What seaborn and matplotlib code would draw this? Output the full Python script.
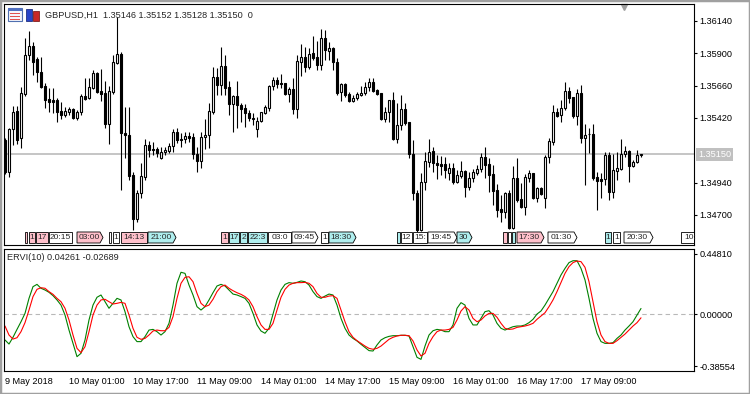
import numpy as np
import pandas as pd
import matplotlib
matplotlib.use("Agg")
import matplotlib.pyplot as plt
from matplotlib.patches import Rectangle, Polygon
from matplotlib.transforms import blended_transform_factory
import seaborn as sns

# GBPUSD H1 candles, 9 May 09:00 .. 17 May
opens = [
    1.35256, 1.35018, 1.35338, 1.35471, 1.35271, 1.35598, 1.35887, 1.35954, 1.35858, 1.35761,
    1.35657, 1.35560, 1.35553, 1.35553, 1.35471, 1.35442, 1.35464, 1.35486, 1.35419, 1.35464,
    1.35583, 1.35568, 1.35642, 1.35754, 1.35620, 1.35605, 1.35375, 1.35612, 1.35828, 1.35895,
    1.35308, 1.35293, 1.34996, 1.34669, 1.34862, 1.34981, 1.35219, 1.35189, 1.35189, 1.35122,
    1.35167, 1.35174, 1.35211, 1.35316, 1.35264, 1.35264, 1.35286, 1.35279, 1.35152, 1.35100,
    1.35279, 1.35293, 1.35464, 1.35724, 1.35664, 1.35806, 1.35650, 1.35523, 1.35583, 1.35516,
    1.35494, 1.35456, 1.35419, 1.35338, 1.35397, 1.35456, 1.35494, 1.35657, 1.35702, 1.35679,
    1.35679, 1.35598, 1.35635, 1.35486, 1.35835, 1.35873, 1.35798, 1.35902, 1.35873, 1.35813,
    1.36014, 1.35917, 1.35939, 1.35835, 1.35612, 1.35672, 1.35598, 1.35546, 1.35568, 1.35590,
    1.35605, 1.35650, 1.35687, 1.35627, 1.35605, 1.35412, 1.35464, 1.35553, 1.35264, 1.35367,
    1.35486, 1.35390, 1.35152, 1.34862, 1.34587, 1.34944, 1.35093, 1.35174, 1.35085, 1.35078,
    1.35078, 1.35011, 1.35048, 1.34944, 1.34989, 1.35026, 1.34907, 1.34974, 1.35011, 1.35041,
    1.35130, 1.35078, 1.35004, 1.34884, 1.34743, 1.34721, 1.34862, 1.34602, 1.34974, 1.34817,
    1.34758, 1.34974, 1.35011, 1.34825, 1.34899, 1.34825, 1.35130, 1.35241, 1.35464, 1.35442,
    1.35494, 1.35620, 1.35575, 1.35434, 1.35605, 1.35271, 1.35301, 1.35301, 1.34981, 1.34966,
    1.34966, 1.35144, 1.34870, 1.35026, 1.35041, 1.35152, 1.35174, 1.35063, 1.35093, 1.35146,
]
highs = [
    1.35271, 1.35346, 1.35508, 1.35508, 1.35650, 1.36014, 1.36066, 1.35984, 1.35873, 1.35873,
    1.35679, 1.35642, 1.35642, 1.35568, 1.35538, 1.35501, 1.35501, 1.35494, 1.35479, 1.35598,
    1.35716, 1.35716, 1.35776, 1.35761, 1.35783, 1.35694, 1.35657, 1.35887, 1.36170, 1.35910,
    1.35501, 1.35501, 1.35018, 1.34884, 1.35085, 1.35264, 1.35249, 1.35241, 1.35204, 1.35204,
    1.35204, 1.35234, 1.35338, 1.35346, 1.35308, 1.35316, 1.35316, 1.35308, 1.35204, 1.35316,
    1.35412, 1.35531, 1.35798, 1.35791, 1.35947, 1.35887, 1.35694, 1.35590, 1.35694, 1.35531,
    1.35523, 1.35479, 1.35456, 1.35427, 1.35464, 1.35516, 1.35664, 1.35724, 1.35724, 1.35746,
    1.35679, 1.35650, 1.35716, 1.35887, 1.35969, 1.35947, 1.35939, 1.36029, 1.35991, 1.36081,
    1.36073, 1.35984, 1.35947, 1.35865, 1.35679, 1.35679, 1.35612, 1.35590, 1.35612, 1.35657,
    1.35687, 1.35716, 1.35716, 1.35635, 1.35605, 1.35501, 1.35553, 1.35612, 1.35531, 1.35590,
    1.35531, 1.35390, 1.35256, 1.34884, 1.35011, 1.35167, 1.35264, 1.35204, 1.35144, 1.35137,
    1.35130, 1.35085, 1.35085, 1.35033, 1.35100, 1.35033, 1.35018, 1.35041, 1.35070, 1.35159,
    1.35204, 1.35122, 1.35070, 1.34929, 1.34847, 1.34870, 1.34884, 1.35063, 1.35122, 1.34936,
    1.35004, 1.35033, 1.35011, 1.34907, 1.34907, 1.35144, 1.35271, 1.35516, 1.35494, 1.35553,
    1.35687, 1.35650, 1.35575, 1.35635, 1.35664, 1.35375, 1.35346, 1.35375, 1.35018, 1.35011,
    1.35167, 1.35167, 1.35152, 1.35167, 1.35264, 1.35211, 1.35182, 1.35108, 1.35182, 1.35152,
]
lows = [
    1.35004, 1.34981, 1.35219, 1.35226, 1.35196, 1.35583, 1.35850, 1.35739, 1.35687, 1.35642,
    1.35494, 1.35464, 1.35456, 1.35390, 1.35412, 1.35427, 1.35442, 1.35412, 1.35404, 1.35442,
    1.35553, 1.35560, 1.35635, 1.35605, 1.35546, 1.35346, 1.35226, 1.35598, 1.35820, 1.34884,
    1.35122, 1.34959, 1.34587, 1.34647, 1.34825, 1.34959, 1.35130, 1.35144, 1.35130, 1.35115,
    1.35144, 1.35159, 1.35167, 1.35234, 1.35204, 1.35234, 1.35241, 1.35115, 1.35018, 1.35048,
    1.35189, 1.35196, 1.35449, 1.35590, 1.35590, 1.35590, 1.35442, 1.35316, 1.35346, 1.35390,
    1.35352, 1.35397, 1.35367, 1.35279, 1.35390, 1.35449, 1.35471, 1.35627, 1.35642, 1.35642,
    1.35590, 1.35538, 1.35449, 1.35419, 1.35731, 1.35761, 1.35783, 1.35850, 1.35776, 1.35776,
    1.35850, 1.35850, 1.35776, 1.35590, 1.35546, 1.35575, 1.35538, 1.35538, 1.35553, 1.35583,
    1.35590, 1.35620, 1.35612, 1.35590, 1.35404, 1.35390, 1.35390, 1.35256, 1.35234, 1.35330,
    1.35367, 1.35122, 1.34810, 1.34572, 1.34580, 1.34884, 1.35056, 1.35018, 1.34966, 1.34996,
    1.34974, 1.34959, 1.34929, 1.34936, 1.34974, 1.34832, 1.34884, 1.34944, 1.34996, 1.35018,
    1.34974, 1.34870, 1.34773, 1.34684, 1.34647, 1.34676, 1.34595, 1.34595, 1.34795, 1.34751,
    1.34699, 1.34944, 1.34817, 1.34795, 1.34847, 1.34751, 1.35085, 1.35219, 1.35427, 1.35390,
    1.35479, 1.35531, 1.35419, 1.35367, 1.35234, 1.34922, 1.35159, 1.34959, 1.34736, 1.34825,
    1.34922, 1.34810, 1.34825, 1.34959, 1.35033, 1.35130, 1.34944, 1.35056, 1.35085, 1.35128,
]
closes = [
    1.35018, 1.35338, 1.35464, 1.35256, 1.35605, 1.35887, 1.35954, 1.35835, 1.35761, 1.35650,
    1.35553, 1.35538, 1.35538, 1.35464, 1.35442, 1.35471, 1.35486, 1.35419, 1.35464, 1.35583,
    1.35560, 1.35650, 1.35754, 1.35612, 1.35598, 1.35375, 1.35620, 1.35835, 1.35895, 1.35308,
    1.35293, 1.34989, 1.34669, 1.34862, 1.34989, 1.35219, 1.35182, 1.35182, 1.35159, 1.35167,
    1.35182, 1.35211, 1.35316, 1.35256, 1.35256, 1.35286, 1.35271, 1.35152, 1.35100, 1.35279,
    1.35293, 1.35471, 1.35724, 1.35664, 1.35806, 1.35642, 1.35523, 1.35583, 1.35516, 1.35486,
    1.35456, 1.35419, 1.35412, 1.35397, 1.35464, 1.35501, 1.35657, 1.35702, 1.35672, 1.35672,
    1.35598, 1.35635, 1.35486, 1.35843, 1.35873, 1.35798, 1.35895, 1.35865, 1.35813, 1.36014,
    1.35925, 1.35939, 1.35835, 1.35605, 1.35672, 1.35590, 1.35546, 1.35568, 1.35598, 1.35605,
    1.35650, 1.35687, 1.35620, 1.35598, 1.35412, 1.35464, 1.35553, 1.35264, 1.35367, 1.35486,
    1.35382, 1.35152, 1.34862, 1.34587, 1.34944, 1.35100, 1.35167, 1.35085, 1.35070, 1.35063,
    1.35033, 1.35048, 1.34944, 1.34996, 1.35026, 1.34907, 1.34974, 1.35018, 1.35041, 1.35130,
    1.35070, 1.34996, 1.34877, 1.34736, 1.34721, 1.34862, 1.34602, 1.34974, 1.34810, 1.34758,
    1.34981, 1.35011, 1.34825, 1.34899, 1.34855, 1.35130, 1.35249, 1.35464, 1.35434, 1.35494,
    1.35620, 1.35568, 1.35434, 1.35605, 1.35271, 1.35293, 1.35298, 1.34974, 1.34951, 1.34951,
    1.35144, 1.34870, 1.35033, 1.35048, 1.35152, 1.35174, 1.35063, 1.35093, 1.35144, 1.35150,
]

# ERVI(10): main (green) and signal (red)
ervi_main = [
    -0.192, -0.222, -0.172, -0.113, -0.056, 0.006, 0.118, 0.205, 0.222, 0.193,
    0.180, 0.163, 0.138, 0.106, 0.068, -0.006, -0.118, -0.217, -0.316, -0.291,
    -0.192, -0.043, 0.068, 0.126, 0.143, 0.093, 0.044, 0.081, 0.118, 0.106,
    0.019, -0.093, -0.167, -0.204, -0.204, -0.167, -0.118, -0.113, -0.130, -0.155,
    -0.130, -0.068, 0.068, 0.230, 0.312, 0.304, 0.217, 0.143, 0.056, 0.031,
    0.056, 0.106, 0.160, 0.210, 0.222, 0.210, 0.180, 0.150, 0.143, 0.131,
    0.118, 0.081, 0.006, -0.080, -0.125, -0.142, -0.105, 0.001, 0.106, 0.180,
    0.222, 0.235, 0.230, 0.237, 0.247, 0.242, 0.217, 0.168, 0.131, 0.118,
    0.135, 0.150, 0.143, 0.068, -0.031, -0.105, -0.155, -0.180, -0.199, -0.224,
    -0.247, -0.271, -0.274, -0.229, -0.192, -0.175, -0.165, -0.160, -0.160, -0.157,
    -0.157, -0.162, -0.242, -0.321, -0.336, -0.237, -0.155, -0.123, -0.113, -0.118,
    -0.130, -0.130, -0.080, 0.044, 0.086, 0.068, -0.031, -0.080, -0.080, -0.031,
    0.019, 0.026, -0.006, -0.068, -0.105, -0.118, -0.105, -0.093, -0.088, -0.088,
    -0.080, -0.063, -0.038, 0.001, 0.024, 0.068, 0.118, 0.168, 0.230, 0.292,
    0.341, 0.384, 0.398, 0.398, 0.341, 0.255, 0.118, -0.031, -0.142, -0.204,
    -0.217, -0.217, -0.212, -0.180, -0.155, -0.118, -0.088, -0.056, -0.006, 0.04261,
]
ervi_signal = [
    -0.088, -0.155, -0.185, -0.175, -0.130, -0.063, 0.031, 0.131, 0.185, 0.197,
    0.193, 0.168, 0.148, 0.118, 0.093, 0.044, -0.043, -0.155, -0.254, -0.286,
    -0.242, -0.130, -0.006, 0.068, 0.106, 0.111, 0.093, 0.076, 0.081, 0.088,
    0.081, -0.006, -0.105, -0.172, -0.187, -0.180, -0.155, -0.125, -0.118, -0.123,
    -0.123, -0.098, -0.018, 0.118, 0.230, 0.274, 0.279, 0.242, 0.155, 0.081,
    0.056, 0.068, 0.111, 0.168, 0.205, 0.217, 0.193, 0.175, 0.160, 0.148,
    0.131, 0.106, 0.056, -0.018, -0.080, -0.113, -0.113, -0.068, 0.031, 0.126,
    0.185, 0.217, 0.230, 0.235, 0.235, 0.237, 0.230, 0.205, 0.155, 0.126,
    0.126, 0.135, 0.138, 0.118, 0.031, -0.056, -0.130, -0.172, -0.197, -0.217,
    -0.237, -0.254, -0.261, -0.254, -0.237, -0.212, -0.187, -0.172, -0.162, -0.157,
    -0.157, -0.160, -0.199, -0.266, -0.311, -0.291, -0.217, -0.167, -0.130, -0.118,
    -0.118, -0.113, -0.098, -0.043, 0.024, 0.056, 0.031, -0.031, -0.056, -0.043,
    -0.013, 0.006, 0.006, -0.023, -0.068, -0.105, -0.113, -0.110, -0.098, -0.093,
    -0.088, -0.080, -0.068, -0.038, -0.013, 0.011, 0.056, 0.106, 0.168, 0.235,
    0.304, 0.354, 0.384, 0.396, 0.391, 0.349, 0.242, 0.093, -0.056, -0.155,
    -0.204, -0.217, -0.217, -0.197, -0.172, -0.148, -0.118, -0.088, -0.063, -0.02689,
]

time_ticks = [0, 16, 32, 48, 64, 80, 96, 112, 128, 144]
time_labels = ["9 May 2018", "10 May 01:00", "10 May 17:00", "11 May 09:00", "14 May 01:00",
               "14 May 17:00", "15 May 09:00", "16 May 01:00", "16 May 17:00", "17 May 09:00"]
price_ticks = [1.36140, 1.35900, 1.35660, 1.35420, 1.34940, 1.34700]
ervi_ticks = [0.44810, 0.00000, -0.38554]
bid = 1.35150

# calendar event tags along the bottom of the price window (start bar, end bar, text, colour, arrow)
events = [
    (5.0, 5.5, "", "pink", False), (6.0, 7.5, "1", "pink", False), (7.75, 10.75, "17", "pink", False),
    (11.0, 16.75, "20:15", "white", False), (18.0, 24.5, "03:00", "pink", True),
    (26.0, 26.5, "", "white", False), (27.0, 28.5, "1", "white", False),
    (29.0, 35.5, "14:13", "pink", False), (35.75, 42.75, "21:00", "cyan", True),
    (54.0, 55.75, "1", "pink", False), (56.0, 58.5, "17", "cyan", False), (58.75, 60.5, "2", "cyan", False),
    (60.75, 65.5, "22:3", "cyan", False), (65.75, 71.5, "03:0", "white", False),
    (71.75, 78.25, "09:45", "white", True), (79.0, 80.75, "1", "white", False),
    (81.0, 87.75, "18:30", "cyan", True), (98.0, 98.75, "", "cyan", False),
    (99.0, 101.75, "12", "white", False), (102.0, 105.5, "15:", "white", False),
    (105.75, 113.0, "19:45", "white", True), (113.0, 116.75, "30", "cyan", True),
    (124.5, 125.5, "", "pink", False), (125.75, 126.5, "", "white", False), (126.75, 127.5, "", "cyan", False),
    (128.0, 134.75, "17:30", "pink", True), (135.75, 143.0, "01:30", "white", True),
    (150.0, 151.5, "1", "cyan", False), (152.0, 153.75, "1", "white", False),
    (154.75, 162.0, "20:30", "white", True), (169.0, 173.5, "10:", "white", False),
]
tag_colors = {"pink": "#ffc0cb", "cyan": "#afeeee", "white": "#ffffff"}

sns.set_style("white")
plt.rcParams['font.family'] = ['Liberation Sans', 'DejaVu Sans']
plt.rcParams['font.size'] = 6.6

W, H = 750, 394
fig = plt.figure(figsize=(7.5, 3.94), dpi=100)


def fx(x):
    return x / W


def fy(y):
    return 1 - y / H


ax1 = fig.add_axes([fx(4), fy(245), fx(694) - fx(4), fy(4) - fy(245)])
ax2 = fig.add_axes([fx(4), fy(370.7), fx(694) - fx(4), fy(249) - fy(370.7)])

# candles
o = np.array(opens)
h = np.array(highs)
l = np.array(lows)
c = np.array(closes)
x = np.arange(len(c))
up = c >= o
body_lo = np.minimum(o, c)
body_h = np.maximum(np.abs(c - o), 0.000005)

ax1.axhline(bid, color="#c0c0c0", lw=1.3, zorder=1)
ax1.vlines(x, l, h, color="black", lw=0.8, zorder=2)
ax1.bar(x[up], body_h[up], bottom=body_lo[up], width=0.55, facecolor="white",
        edgecolor="black", lw=0.8, zorder=3)
ax1.bar(x[~up], body_h[~up], bottom=body_lo[~up], width=0.55, facecolor="black",
        edgecolor="black", lw=0.8, zorder=3)

ax1.set_xlim(-0.25, 172.25)
ax1.set_ylim(1.34476, 1.36266)
ax1.set_xticks([])
ax1.yaxis.tick_right()
ax1.set_yticks(price_ticks)
ax1.set_yticklabels([f"{v:.5f}" for v in price_ticks])
ax1.tick_params(axis="y", direction="out", length=2.2, width=0.8, pad=1.5, labelsize=6.6, colors="black")

# event tags
tr = blended_transform_factory(ax1.transData, ax1.transAxes)
y0, y1 = 0.0083, 0.054
for xs, xe, label, col, arrow in events:
    if arrow:
        pts = [(xs, y0), (xe - 0.75, y0), (xe, (y0 + y1) / 2), (xe - 0.75, y1), (xs, y1)]
    else:
        pts = [(xs, y0), (xe, y0), (xe, y1), (xs, y1)]
    ax1.add_patch(Polygon(pts, closed=True, facecolor=tag_colors[col], edgecolor="black",
                          lw=0.6, transform=tr, zorder=4))
    if label:
        ax1.text((xs + xe) / 2 - (0.3 if arrow else 0), (y0 + y1) / 2, label, transform=tr,
                 fontsize=6, ha="center", va="center", zorder=5)

# current bid label
ax1.text(1 + 4 / 690, bid, f"{bid:.5f}", transform=blended_transform_factory(ax1.transAxes, ax1.transData),
         ha="left", va="center", color="white", fontsize=6.6, clip_on=False, zorder=6,
         bbox=dict(boxstyle="square,pad=0.2", fc="#c0c0c0", ec="none"))

# chart shift marker
ax1.plot([154.75], [0.988], marker="v", ms=4, color="#a0a0a0", transform=tr, clip_on=False)

# ERVI window
df = pd.DataFrame({"bar": x, "main": ervi_main, "signal": ervi_signal})
ax2.axhline(0, color="#b8b8b8", lw=0.8, ls=(0, (4, 3)), zorder=0)
sns.lineplot(data=df, x="bar", y="main", color="#008000", lw=0.8, ax=ax2)
sns.lineplot(data=df, x="bar", y="signal", color="#ff0000", lw=0.8, ax=ax2)
ax2.set_xlabel("")
ax2.set_ylabel("")
ax2.set_xlim(-0.25, 172.25)
ax2.set_ylim(-0.4205, 0.4853)
ax2.yaxis.tick_right()
ax2.set_yticks(ervi_ticks)
ax2.set_yticklabels([f"{v:.5f}" for v in ervi_ticks])
ax2.set_xticks(time_ticks)
ax2.set_xticklabels(time_labels, ha="left")
ax2.tick_params(axis="y", direction="out", length=2.2, width=0.8, pad=1.5, labelsize=6.6, colors="black")
ax2.tick_params(axis="x", direction="out", length=3, width=0.8, pad=1.5, labelsize=6.6, colors="black")

for ax in (ax1, ax2):
    for s in ax.spines.values():
        s.set_color("black")
        s.set_linewidth(0.8)

# header texts
fig.text(fx(45), fy(15), f"GBPUSD,H1  {opens[-1]:.5f} {highs[-1]:.5f} {lows[-1]:.5f} {closes[-1]:.5f}  0",
         ha="left", va="center", fontsize=6.6)
fig.text(fx(7), fy(257), f"ERVI(10) {ervi_main[-1]:.5f} {ervi_signal[-1]:.5f}",
         ha="left", va="center", fontsize=6.6)

# small window icons
fig.add_artist(Rectangle((fx(8), fy(21)), 14 / W, 13 / H, transform=fig.transFigure,
                         facecolor="#f4f4fb", edgecolor="#5070b0", lw=0.8))
fig.add_artist(Rectangle((fx(8), fy(11)), 14 / W, 3 / H, transform=fig.transFigure,
                         facecolor="#5070c0", edgecolor="none"))
for yy in (14, 17, 20):
    fig.add_artist(Rectangle((fx(10), fy(yy)), 10 / W, 1.3 / H, transform=fig.transFigure,
                             facecolor="#e05050", edgecolor="none"))
fig.add_artist(Rectangle((fx(26), fy(21)), 6 / W, 12 / H, transform=fig.transFigure,
                         facecolor="#2844c8", edgecolor="#203080", lw=0.6))
fig.add_artist(Rectangle((fx(33), fy(21)), 6 / W, 10 / H, transform=fig.transFigure,
                         facecolor="#c82828", edgecolor="#802020", lw=0.6))

# window frame
fig.add_artist(Rectangle((0, 0), 1, 1, transform=fig.transFigure, fill=False,
                         edgecolor="#a0a0a0", lw=2.5))

fig.savefig("out.png", dpi=100)
